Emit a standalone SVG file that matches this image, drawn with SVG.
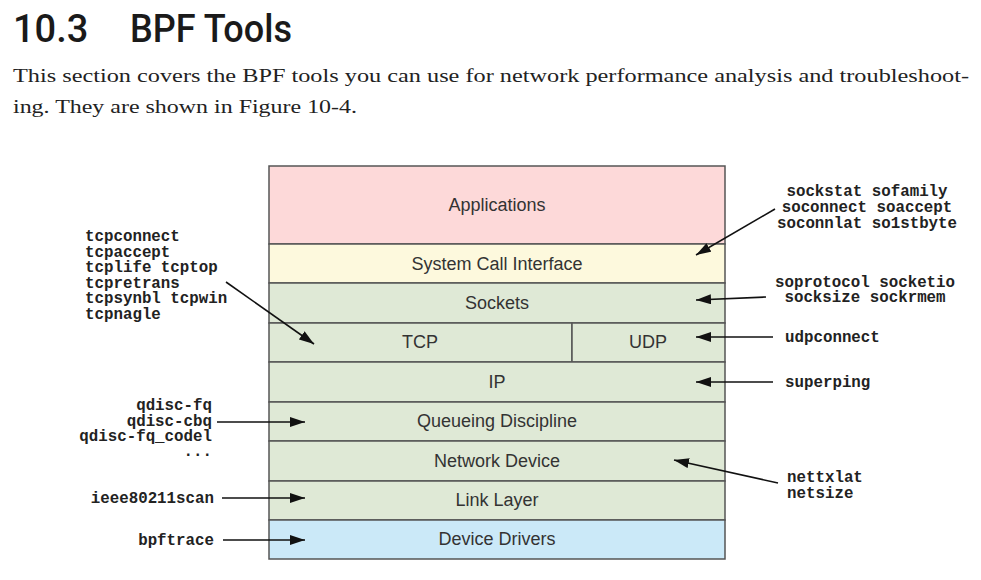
<svg xmlns="http://www.w3.org/2000/svg" width="981" height="580" viewBox="0 0 981 580">
<defs>
<style>
.head{font-family:Roboto,"Liberation Sans",sans-serif;font-weight:500;font-size:38px;fill:#1a1a1a}
.body{font-family:"Liberation Serif","DejaVu Serif",serif;font-size:18.5px;fill:#222}
.layer{stroke:#555;stroke-width:1.5}
.lt{font-family:"Liberation Sans",Arial,sans-serif;font-size:18px;fill:#333;text-anchor:middle}
.tool{font-family:"Liberation Mono","Courier New",monospace;font-weight:bold;font-size:15.8px;fill:#222}
.conn{stroke:#111;stroke-width:1.6;fill:none;marker-end:url(#ah)}
</style>
<marker id="ah" markerUnits="userSpaceOnUse" viewBox="0 0 15 10" refX="15" refY="5" markerWidth="15" markerHeight="10" orient="auto">
<path d="M0,0 L15,5 L0,10 z" fill="#111"/>
</marker>
</defs>
<rect width="981" height="580" fill="#fff"/>
<text class="head" x="13" y="42">10.3</text>
<text class="head" x="130" y="42" textLength="162" lengthAdjust="spacingAndGlyphs">BPF Tools</text>
<text class="body" x="13" y="82" textLength="956" lengthAdjust="spacingAndGlyphs">This section covers the BPF tools you can use for network performance analysis and troubleshoot-</text>
<text class="body" x="13" y="113" textLength="344" lengthAdjust="spacingAndGlyphs">ing. They are shown in Figure 10-4.</text>

<g id="applications"><rect class="layer" x="269" y="166" width="456" height="78" fill="#fdd9d9"/><text class="lt" x="497" y="211">Applications</text></g>
<g id="syscall"><rect class="layer" x="269" y="244" width="456" height="39" fill="#fdf9dd"/><text class="lt" x="497" y="270">System Call Interface</text></g>
<g id="sockets"><rect class="layer" x="269" y="283" width="456" height="40" fill="#dfe9d6"/><text class="lt" x="497" y="309">Sockets</text></g>
<g id="tcp"><rect class="layer" x="269" y="323" width="303" height="39" fill="#dfe9d6"/><text class="lt" x="420" y="348">TCP</text></g>
<g id="udp"><rect class="layer" x="572" y="323" width="153" height="39" fill="#dfe9d6"/><text class="lt" x="648" y="348">UDP</text></g>
<g id="ip"><rect class="layer" x="269" y="362" width="456" height="40" fill="#dfe9d6"/><text class="lt" x="497" y="388">IP</text></g>
<g id="qdisc"><rect class="layer" x="269" y="402" width="456" height="39" fill="#dfe9d6"/><text class="lt" x="497" y="427">Queueing Discipline</text></g>
<g id="netdev"><rect class="layer" x="269" y="441" width="456" height="40" fill="#dfe9d6"/><text class="lt" x="497" y="467">Network Device</text></g>
<g id="link"><rect class="layer" x="269" y="481" width="456" height="39" fill="#dfe9d6"/><text class="lt" x="497" y="506">Link Layer</text></g>
<g id="drivers"><rect class="layer" x="269" y="520" width="456" height="39" fill="#cbe9f8"/><text class="lt" x="497" y="545">Device Drivers</text></g>

<g id="tcp-tools"><text class="tool" x="85" y="241">tcpconnect</text><text class="tool" x="85" y="256.6">tcpaccept</text><text class="tool" x="85" y="272.2">tcplife tcptop</text><text class="tool" x="85" y="287.8">tcpretrans</text><text class="tool" x="85" y="303.4">tcpsynbl tcpwin</text><text class="tool" x="85" y="319">tcpnagle</text></g>
<g id="qdisc-tools" text-anchor="end"><text class="tool" x="212" y="410">qdisc-fq</text><text class="tool" x="212" y="425.7">qdisc-cbq</text><text class="tool" x="212" y="441.4">qdisc-fq_codel</text><text class="tool" x="212" y="456">...</text></g>
<g id="ieee-tools"><text class="tool" x="214" y="503" text-anchor="end">ieee80211scan</text></g>
<g id="bpftrace-tools"><text class="tool" x="214" y="545" text-anchor="end">bpftrace</text></g>
<g id="so-tools" text-anchor="middle"><text class="tool" x="867" y="196">sockstat sofamily</text><text class="tool" x="867" y="212">soconnect soaccept</text><text class="tool" x="867" y="228">soconnlat so1stbyte</text></g>
<g id="sock-tools" text-anchor="middle"><text class="tool" x="865" y="287">soprotocol socketio</text><text class="tool" x="865" y="302">socksize sockrmem</text></g>
<g id="udp-tools"><text class="tool" x="785" y="342">udpconnect</text></g>
<g id="ip-tools"><text class="tool" x="785" y="387">superping</text></g>
<g id="net-tools"><text class="tool" x="787" y="482">nettxlat</text><text class="tool" x="787" y="498">netsize</text></g>

<g id="connectors">
<line class="conn" x1="226" y1="282" x2="314" y2="344"/>
<line class="conn" x1="217" y1="422" x2="305" y2="422"/>
<line class="conn" x1="222" y1="498" x2="305" y2="498"/>
<line class="conn" x1="223" y1="540" x2="305" y2="540"/>
<line class="conn" x1="775" y1="209" x2="696" y2="255"/>
<line class="conn" x1="766" y1="297" x2="696" y2="300"/>
<line class="conn" x1="773" y1="337" x2="696" y2="337"/>
<line class="conn" x1="773" y1="382" x2="696" y2="382"/>
<line class="conn" x1="778" y1="483" x2="674" y2="460"/>
</g>
</svg>
